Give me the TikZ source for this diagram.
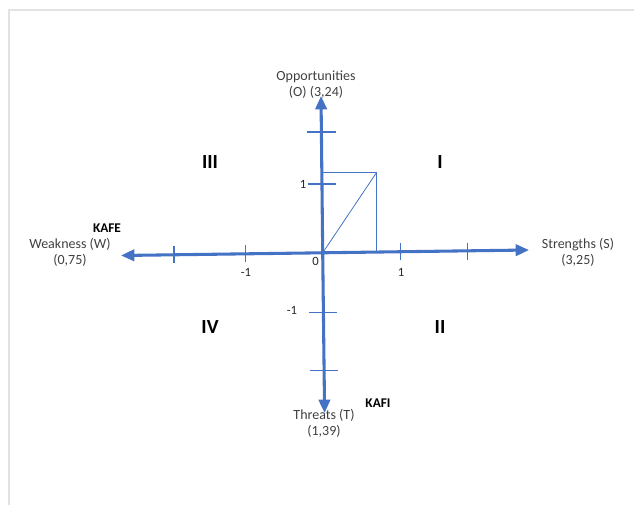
\documentclass[tikz,border=0pt]{standalone}
\usepackage{fontspec}
\setmainfont{Carlito}
\usepackage{xcolor}
\usepackage{tikz}
\usetikzlibrary{arrows.meta}

\definecolor{axisblue}{HTML}{4472C4}
\definecolor{txtgray}{HTML}{404040}
\definecolor{framegray}{HTML}{E2E2E2}

\begin{document}
\begin{tikzpicture}[x=0.75pt,y=-0.75pt,
    axis/.style={axisblue, line width=2.3pt, -{Triangle[length=10pt,width=8.5pt]}},
    tick/.style={axisblue, line width=0.8pt},
    thin/.style={axisblue, line width=0.6pt},
    lbl/.style={txtgray, font=\fontsize{10.5}{12}\selectfont, align=center, inner sep=0pt},
    num/.style={black!85, font=\fontsize{9.5}{11}\selectfont, inner sep=0pt},
    quad/.style={black, font=\fontsize{15}{17}\selectfont\bfseries, inner sep=0pt},
    tag/.style={black, font=\fontsize{10}{12}\selectfont\bfseries, inner sep=0pt}]
  \useasboundingbox (0,0) rectangle (634,505);
  \draw[framegray, line width=0.9pt] (9,505) -- (9,10) -- (634,10);

  \coordinate (O) at (322.7,252.8);
  \coordinate (W) at (121,255.5);
  \coordinate (S) at (529,250);
  \coordinate (N) at (321,96);
  \coordinate (T) at (324.6,413);

  \draw[axis] (O) -- (S);
  \draw[axis] (O) -- (W);
  \draw[axis] (O) -- (N);
  \draw[axis] (O) -- (T);

  \foreach \x/\y in {174/254.3, 245.7/253.5, 400.7/251.8, 467.7/251.1}
    \draw[tick] (\x,\y-8.5) -- (\x,\y+8.5);
  \foreach \y/\x in {132/321.6, 184/322.2, 312.3/323.4, 370.7/324}
    \draw[tick] (\x-14.5,\y) -- (\x+14,\y);

  \coordinate (P) at (376.7,172.3);
  \draw[thin] (323,172.3) -- (P) -- (376.7,252.2);
  \draw[thin] (O) -- (P);

  \node[num] (zero) at (315.5,261) {0};
  \node[num] (xm1) at (246,272) {-1};
  \node[num] (xp1) at (401,272) {1};
  \node[num] (yp1) at (303,184) {1};
  \node[num] (ym1) at (292,310) {-1};

  \node[lbl] (opp) at (316,85) {Opportunities\\(O) (3,24)};
  \node[lbl] (str) at (578,252.5) {Strengths (S)\\(3,25)};
  \node[lbl] (wea) at (70,252) {Weakness (W)\\(0,75)};
  \node[lbl] (thr) at (324,423) {Threats (T)\\(1,39)};
  \node[tag] (kafe) at (107,228) {KAFE};
  \node[tag] (kafi) at (378,403) {KAFI};

  \node[quad] (q3) at (210,162) {III};
  \node[quad] (q1) at (440,162) {I};
  \node[quad] (q4) at (210,327) {IV};
  \node[quad] (q2) at (440,327) {II};
\end{tikzpicture}
\end{document}
